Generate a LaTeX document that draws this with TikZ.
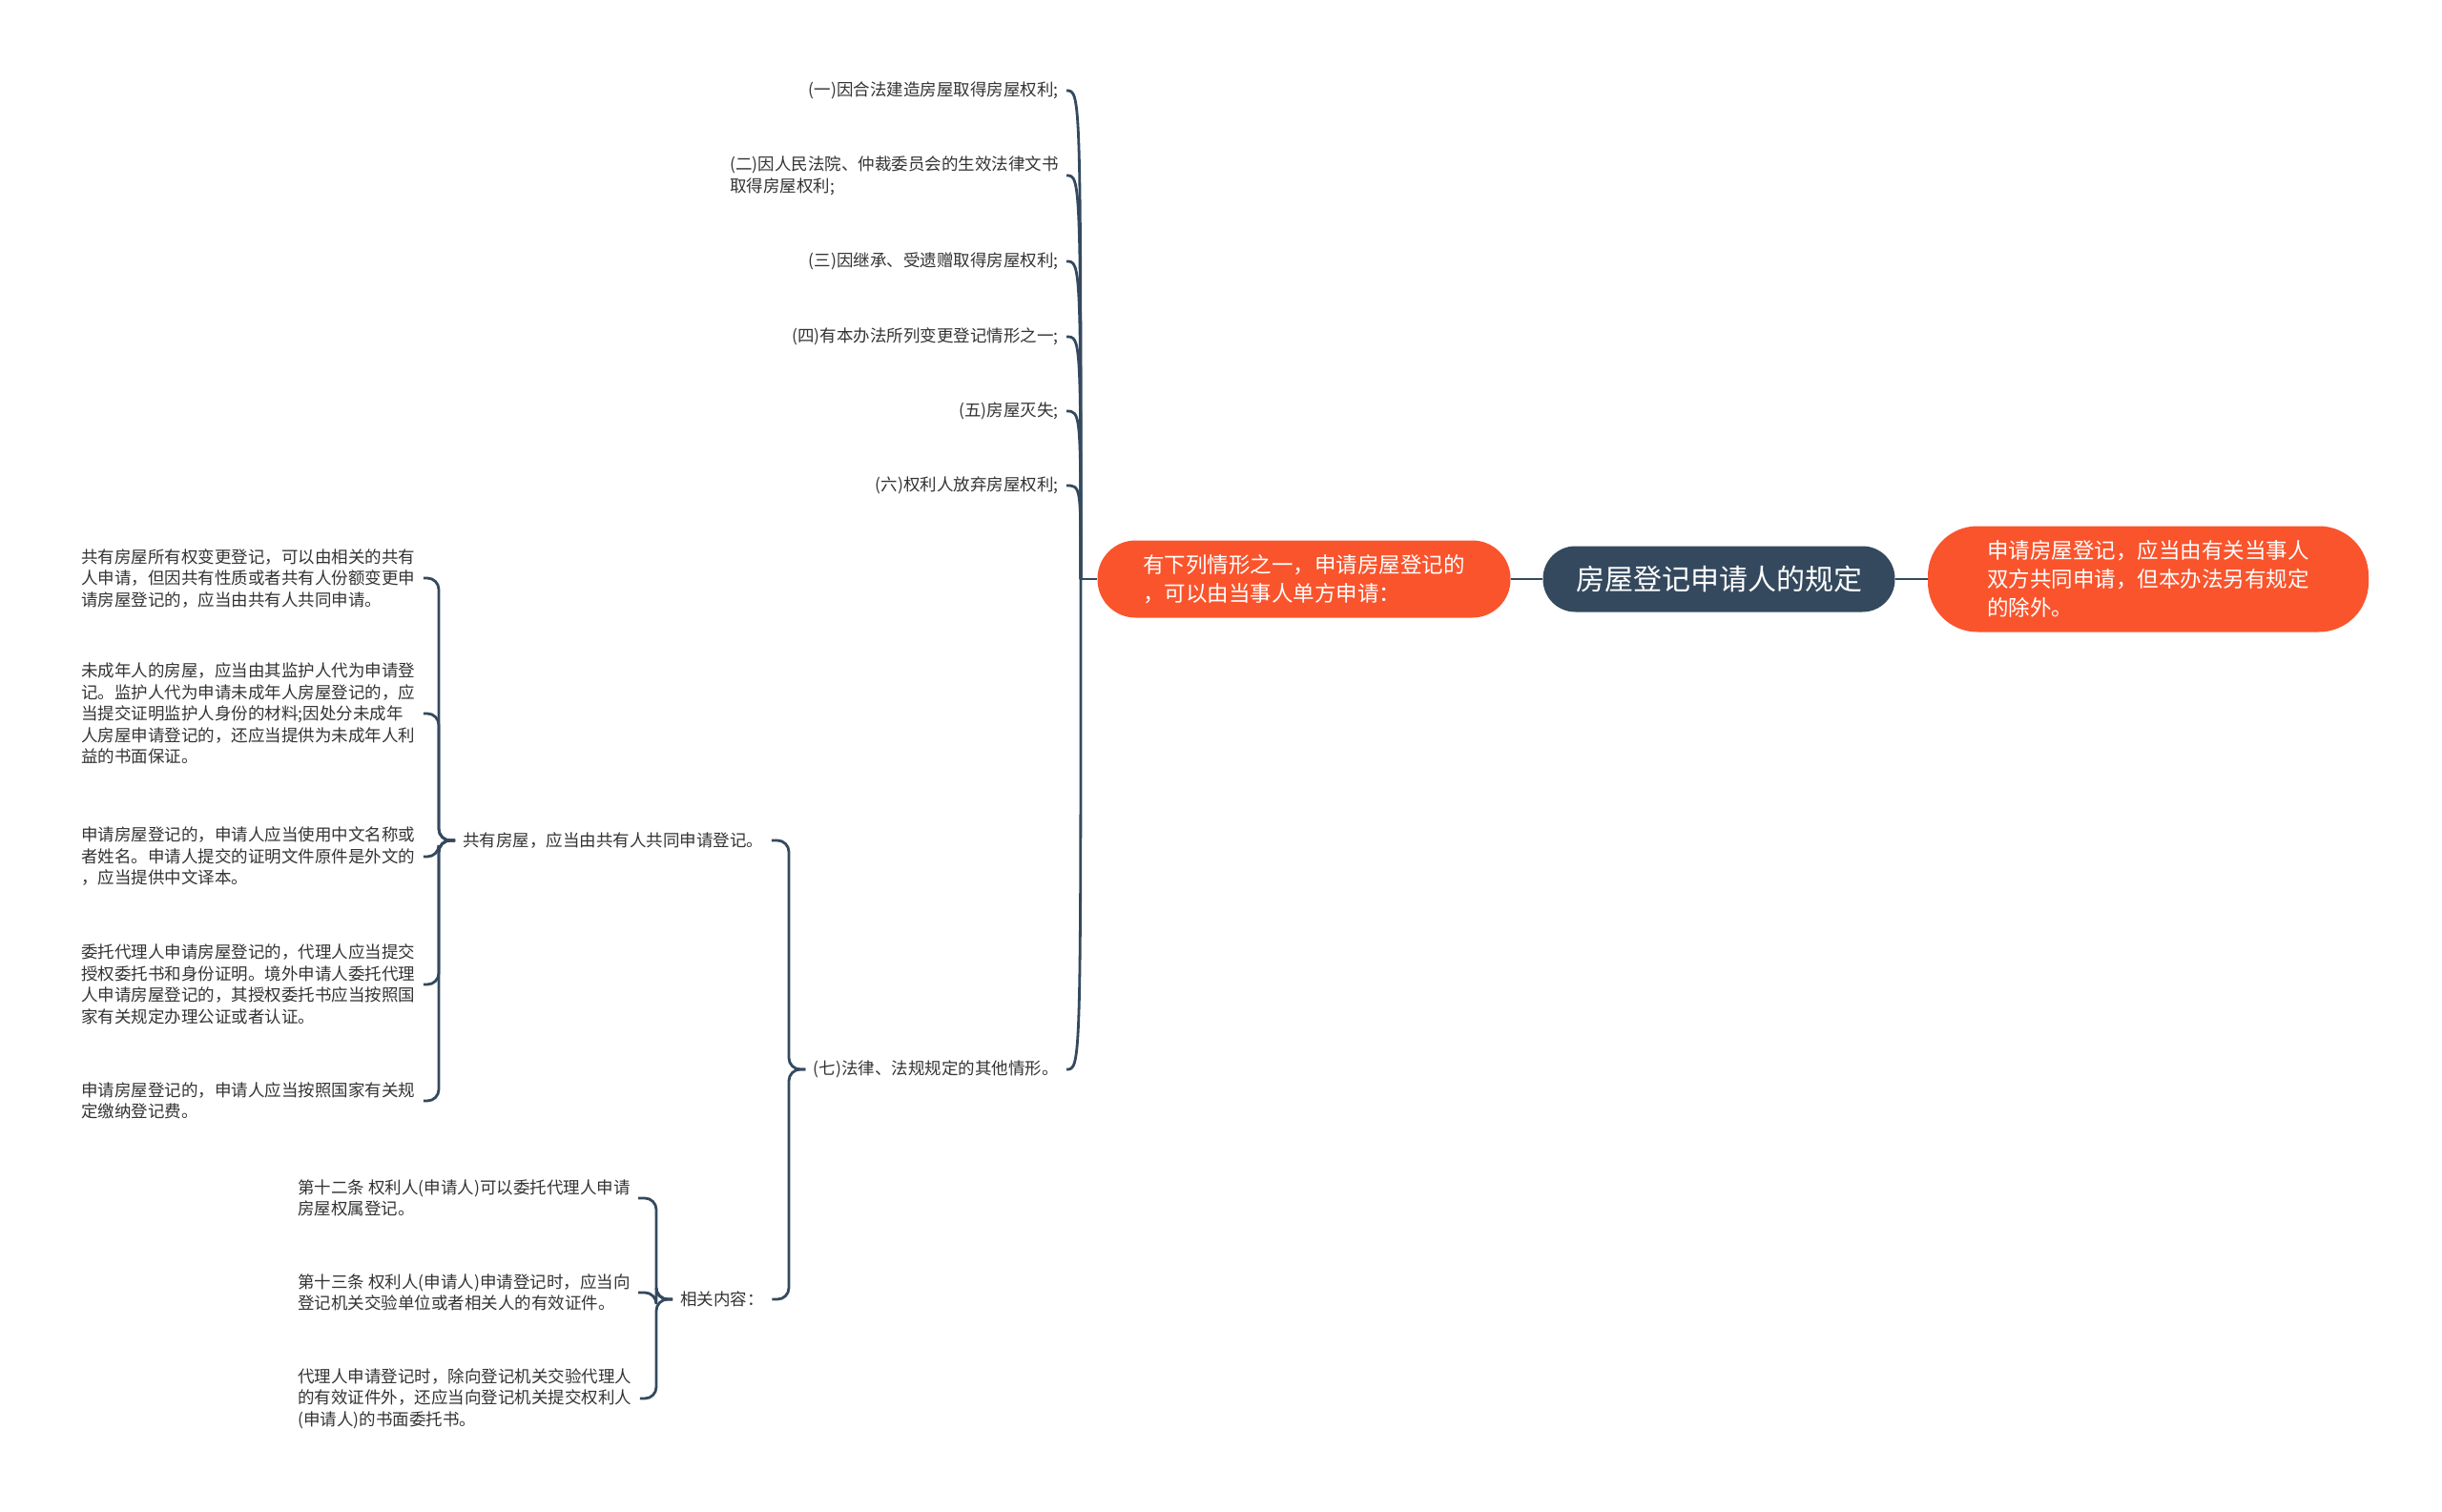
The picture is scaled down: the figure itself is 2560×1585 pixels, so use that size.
\documentclass[tikz,border=0pt]{standalone}
\usepackage{fontspec}
\setmainfont{Noto Sans CJK SC}
\definecolor{slate}{RGB}{52,73,94}
\definecolor{hot}{RGB}{250,84,45}
\definecolor{ink}{RGB}{51,51,51}
\begin{document}
\begin{tikzpicture}[x=.5pt,y=-.5pt,
  hub/.style={fill=slate,text=white,rounded corners=17pt,minimum width=184.5pt,minimum height=34.5pt,font=\fontsize{15pt}{18pt}\selectfont},
  lead/.style={fill=hot,text=white,align=left,font=\fontsize{11.25pt}{15pt}\selectfont},
  leaf/.style={text=ink,align=left,inner xsep=4pt,inner ysep=2pt,font=\fontsize{8.75pt}{11.25pt}\selectfont},
  wire/.style={draw=slate,line width=1.4pt},
  fork/.style={wire,rounded corners=6pt}]
\useasboundingbox (0,0) rectangle (2560,1585);
\node[hub] (root) at (1802,607) {房屋登记申请人的规定};
\node[lead,rounded corners=20pt,minimum width=216.5pt,minimum height=40.5pt] (one) at (1367,607) {有下列情形之一，申请房屋登记的\\，可以由当事人单方申请：};
\node[lead,rounded corners=26pt,minimum width=231pt,minimum height=55.5pt] (both) at (2252,607) {申请房屋登记，应当由有关当事人\\双方共同申请，但本办法另有规定\\的除外。};
\draw[wire] (one.east) -- (root.west);
\draw[wire] (root.east) -- (both.west);

\node[leaf,anchor=east] (s1) at (1118,95) {(一)因合法建造房屋取得房屋权利;};
\node[leaf,anchor=east] (s2) at (1118,184) {(二)因人民法院、仲裁委员会的生效法律文书\\取得房屋权利;};
\node[leaf,anchor=east] (s3) at (1118,274) {(三)因继承、受遗赠取得房屋权利;};
\node[leaf,anchor=east] (s4) at (1118,353) {(四)有本办法所列变更登记情形之一;};
\node[leaf,anchor=east] (s5) at (1118,431) {(五)房屋灭失;};
\node[leaf,anchor=east] (s6) at (1118,509) {(六)权利人放弃房屋权利;};
\node[leaf,anchor=east] (s7) at (1118,1121) {(七)法律、法规规定的其他情形。};
\coordinate (j) at (1133,607);
\draw[wire] (one.west) -- (j);
\foreach \s in {1,...,7}
  \draw[wire] (j) .. controls (j |- s\s.east) .. (s\s.east);

\node[leaf,anchor=west] (g1) at (477,881) {共有房屋，应当由共有人共同申请登记。};
\node[leaf,anchor=west] (g2) at (705,1362) {相关内容：};
\coordinate (k7) at (827,1121);
\draw[fork] (s7.west) -- (k7) |- (g1.east);
\draw[fork] (s7.west) -- (k7) |- (g2.east);

\node[leaf,anchor=west] (p1) at (77,606) {共有房屋所有权变更登记，可以由相关的共有\\人申请，但因共有性质或者共有人份额变更申\\请房屋登记的，应当由共有人共同申请。};
\node[leaf,anchor=west] (p2) at (77,748) {未成年人的房屋，应当由其监护人代为申请登\\记。监护人代为申请未成年人房屋登记的，应\\当提交证明监护人身份的材料;因处分未成年\\人房屋申请登记的，还应当提供为未成年人利\\益的书面保证。};
\node[leaf,anchor=west] (p3) at (77,898) {申请房屋登记的，申请人应当使用中文名称或\\者姓名。申请人提交的证明文件原件是外文的\\，应当提供中文译本。};
\node[leaf,anchor=west] (p4) at (77,1032) {委托代理人申请房屋登记的，代理人应当提交\\授权委托书和身份证明。境外申请人委托代理\\人申请房屋登记的，其授权委托书应当按照国\\家有关规定办理公证或者认证。};
\node[leaf,anchor=west] (p5) at (77,1154) {申请房屋登记的，申请人应当按照国家有关规\\定缴纳登记费。};
\coordinate (k1) at (460,881);
\foreach \p in {1,...,5}
  \draw[fork] (g1.west) -- (k1) |- (p\p.east);

\node[leaf,anchor=west] (q1) at (304,1256) {第十二条 权利人(申请人)可以委托代理人申请\\房屋权属登记。};
\node[leaf,anchor=west] (q2) at (304,1355) {第十三条 权利人(申请人)申请登记时，应当向\\登记机关交验单位或者相关人的有效证件。};
\node[leaf,anchor=west] (q3) at (304,1466) {代理人申请登记时，除向登记机关交验代理人\\的有效证件外，还应当向登记机关提交权利人\\(申请人)的书面委托书。};
\coordinate (k2) at (688,1362);
\foreach \q in {1,2,3}
  \draw[fork] (g2.west) -- (k2) |- (q\q.east);
\end{tikzpicture}
\end{document}
